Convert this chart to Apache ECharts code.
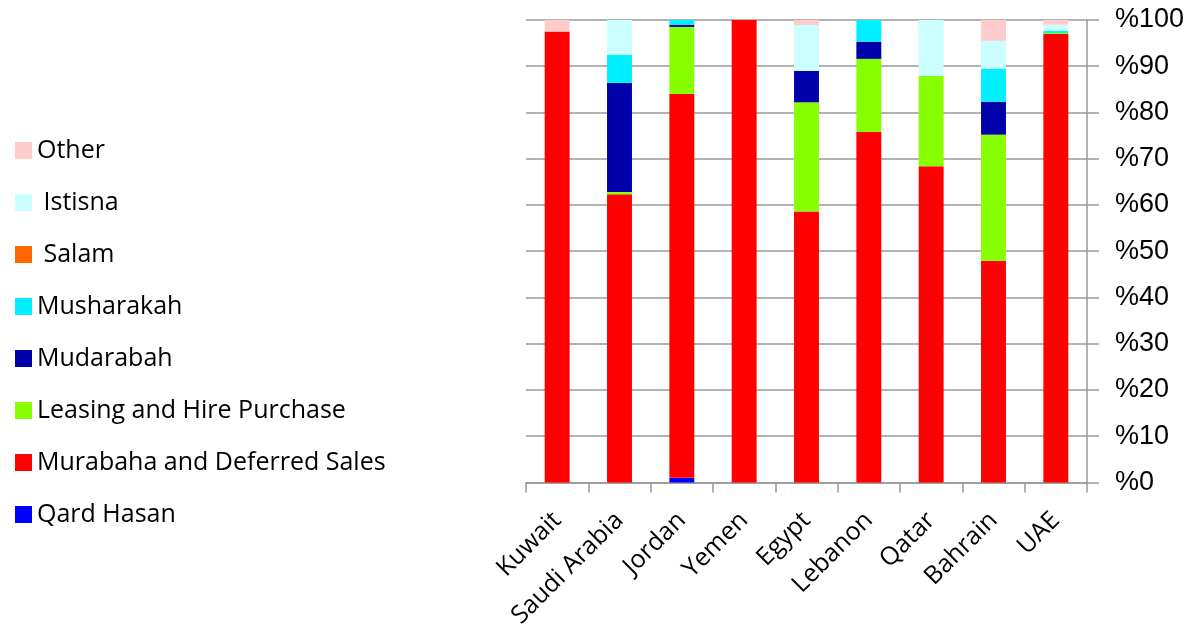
<!DOCTYPE html>
<html>
<head>
<meta charset="utf-8">
<script src="https://cdn.jsdelivr.net/npm/echarts@6/dist/echarts.min.js"></script>
<style>html,body{margin:0;padding:0;background:#fff;}#c{width:1194px;height:631px;}</style>
</head>
<body>
<div id="c"></div>
<script>
const categories = ['Kuwait','Saudi Arabia','Jordan','Yemen','Egypt','Lebanon','Qatar','Bahrain','UAE'];
const qardHasan  = [0, 0, 1, 0, 0, 0, 0, 0, 0];
const murabaha   = [97.5, 62.3, 83, 100, 58.6, 75.8, 68.4, 47.9, 97.0];
const leasing    = [0, 0.5, 14.5, 0, 23.6, 15.8, 19.5, 27.3, 0.2];
const mudarabah  = [0, 23.6, 0.5, 0, 6.8, 3.7, 0, 7.1, 0];
const musharakah = [0, 6.1, 1.0, 0, 0, 4.7, 0, 7.2, 0.5];
const salam      = [0, 0, 0, 0, 0, 0, 0, 0, 0];
const istisna    = [0, 7.5, 0, 0, 9.9, 0, 12.1, 6.0, 1.3];
const other      = [2.5, 0, 0, 0, 1.1, 0, 0, 4.5, 1.0];
const yTicks = [0,10,20,30,40,50,60,70,80,90,100];

const seriesDefs = [
  {name:'Qard Hasan', data:qardHasan, color:'#0000FF'},
  {name:'Murabaha and Deferred Sales', data:murabaha, color:'#FF0000'},
  {name:'Leasing and Hire Purchase', data:leasing, color:'#88FF00'},
  {name:'Mudarabah', data:mudarabah, color:'#0000AA'},
  {name:'Musharakah', data:musharakah, color:'#00F0FF'},
  {name:' Salam', data:salam, color:'#FF6600'},
  {name:' Istisna', data:istisna, color:'#CCFFFF'},
  {name:'Other', data:other, color:'#FFCCCC'}
];

const chart = echarts.init(document.getElementById('c'), null, {renderer:'canvas'});
const font = '"Open Sans", Lato, sans-serif';
chart.setOption({
  animation:false,
  backgroundColor:'#fff',
  legend:{
    orient:'vertical', left:10, top:133,
    itemWidth:17, itemHeight:17, itemGap:27,
    icon:'rect',
    data: seriesDefs.map(s=>s.name).reverse(),
    textStyle:{fontFamily:font, fontSize:25, color:'#000', lineHeight:24}
  },
  grid:{left:526, right:107, top:20, bottom:147, containLabel:false},
  xAxis:{
    type:'category', data:categories, boundaryGap:true,
    axisLine:{lineStyle:{color:'#999', width:1.5}},
    axisTick:{show:true, length:10, lineStyle:{color:'#999', width:1.5}},
    axisLabel:{rotate:45, fontFamily:font, fontSize:25, color:'#000', margin:34, interval:0}
  },
  yAxis:{
    type:'value', position:'right', min:0, max:100, interval:10,
    axisLine:{show:true, lineStyle:{color:'#999', width:1.5}},
    axisTick:{show:true, length:12, lineStyle:{color:'#999', width:1.5}},
    splitLine:{show:true, lineStyle:{color:'#999', width:1.5}},
    axisLabel:{fontFamily:'"Liberation Sans", Arial, sans-serif', fontSize:27, color:'#000', margin:28,
      formatter:v=> yTicks.includes(v) ? '%'+v : ''}
  },
  series: seriesDefs.map(s=>({
    name:s.name, type:'bar', stack:'total', data:s.data, barWidth:'40%',
    itemStyle:{color:s.color}
  }))
});
</script>
</body>
</html>
